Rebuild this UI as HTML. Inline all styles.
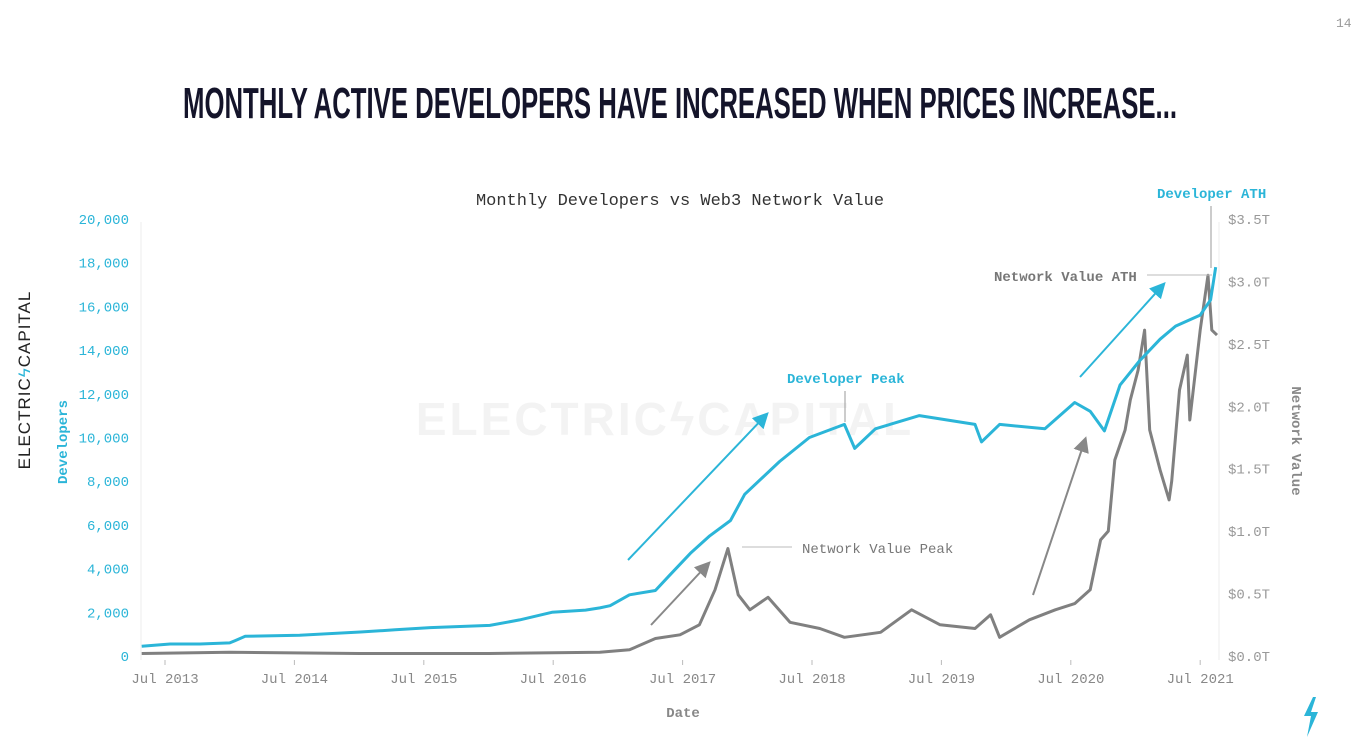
<!DOCTYPE html>
<html><head><meta charset="utf-8"><style>
body{margin:0;background:#fff;width:1360px;height:754px;overflow:hidden}
svg{display:block}
.mono{font-family:"Liberation Mono",monospace}
</style></head><body>
<svg id="chart" width="1360" height="754" viewBox="0 0 1360 754" xmlns="http://www.w3.org/2000/svg">
<text x="1336" y="27" class="mono" font-size="13" fill="#999">14</text>
<text x="680" y="118" text-anchor="middle" font-family="Liberation Sans,sans-serif" font-weight="bold" font-size="44" fill="#14142a" textLength="994" lengthAdjust="spacingAndGlyphs">MONTHLY ACTIVE DEVELOPERS HAVE INCREASED WHEN PRICES INCREASE...</text>
<text transform="translate(30,380) rotate(-90)" text-anchor="middle" font-family="Liberation Sans,sans-serif" font-size="17" fill="#222" letter-spacing="1">ELECTRIC<tspan fill="#2bb5d8">ϟ</tspan>CAPITAL</text>
<text x="665" y="435" text-anchor="middle" font-family="Liberation Sans,sans-serif" font-weight="bold" font-size="46" fill="#f3f3f3" letter-spacing="3">ELECTRICϟCAPITAL</text>
<text x="680" y="205" text-anchor="middle" class="mono" font-size="17" fill="#333">Monthly Developers vs Web3 Network Value</text>
<line x1="141" y1="222" x2="141" y2="660" stroke="#eee"/>
<line x1="1219" y1="222" x2="1219" y2="660" stroke="#eee"/>
<g id="axes"></g>
<text transform="translate(67,442) rotate(-90)" text-anchor="middle" class="mono" font-weight="bold" font-size="14" fill="#2bb5d8">Developers</text>
<text transform="translate(1292,441) rotate(90)" text-anchor="middle" class="mono" font-weight="bold" font-size="14" fill="#888">Network Value</text>
<text x="683" y="717" text-anchor="middle" class="mono" font-weight="bold" font-size="14" fill="#888">Date</text>
<g id="series"></g>
<g>
<defs>
<marker id="ab" markerWidth="8" markerHeight="8" refX="6" refY="4" orient="auto"><path d="M0,0 L8,4 L0,8 z" fill="#2bb5d8"/></marker>
<marker id="ag" markerWidth="8" markerHeight="8" refX="6" refY="4" orient="auto"><path d="M0,0 L8,4 L0,8 z" fill="#888"/></marker>
</defs>
<line x1="628" y1="560" x2="766" y2="415" stroke="#2bb5d8" stroke-width="2" marker-end="url(#ab)"/>
<line x1="1080" y1="377" x2="1163" y2="285" stroke="#2bb5d8" stroke-width="2" marker-end="url(#ab)"/>
<line x1="651" y1="625" x2="708" y2="564" stroke="#888" stroke-width="2" marker-end="url(#ag)"/>
<line x1="1033" y1="595" x2="1085" y2="440" stroke="#888" stroke-width="2" marker-end="url(#ag)"/>
<text x="787" y="383" class="mono" font-weight="bold" font-size="14" fill="#2bb5d8">Developer Peak</text>
<line x1="845" y1="391" x2="845" y2="422" stroke="#999"/>
<text x="802" y="553" class="mono" font-size="14" fill="#777">Network Value Peak</text>
<line x1="742" y1="547" x2="792" y2="547" stroke="#bbb"/>
<text x="994" y="281" class="mono" font-weight="bold" font-size="14" fill="#777">Network Value ATH</text>
<line x1="1147" y1="275" x2="1212" y2="275" stroke="#bbb"/>
<text x="1157" y="198" class="mono" font-weight="bold" font-size="14" fill="#2bb5d8">Developer ATH</text>
<line x1="1211" y1="206" x2="1211" y2="268" stroke="#999"/>
</g>
<path d="M1313 697 L1304 716 L1311 716 L1307 737 L1318 712 L1311 712 L1316 697 z" fill="#2bb5d8"/>
</svg>
<script>
const devYears=[2013.32,2013.54,2013.77,2014.0,2014.04,2014.12,2014.54,2015.01,2015.28,2015.55,2016.01,2016.24,2016.49,2016.75,2016.86,2016.94,2017.09,2017.29,2017.40,2017.56,2017.71,2017.87,2017.98,2018.25,2018.48,2018.75,2018.83,2018.99,2019.33,2019.76,2019.81,2019.95,2020.30,2020.53,2020.65,2020.76,2020.88,2021.03,2021.19,2021.31,2021.50,2021.58,2021.62];
const devValues=[450,550,550,600,700,900,950,1100,1200,1300,1400,1650,2000,2100,2200,2300,2800,3000,3700,4700,5500,6200,7400,8900,10000,10600,9500,10400,11000,10600,9800,10600,10400,11600,11200,10300,12400,13500,14500,15100,15600,16300,17800];
const nvYears=[2013.32,2014.0,2015.0,2016.0,2016.86,2017.09,2017.29,2017.48,2017.63,2017.75,2017.85,2017.93,2018.02,2018.16,2018.33,2018.56,2018.75,2019.03,2019.27,2019.49,2019.76,2019.88,2019.95,2020.18,2020.38,2020.53,2020.65,2020.73,2020.79,2020.84,2020.92,2020.96,2021.02,2021.07,2021.11,2021.19,2021.26,2021.28,2021.34,2021.40,2021.42,2021.50,2021.56,2021.59,2021.63];
const nvValues=[0.02,0.03,0.02,0.02,0.03,0.05,0.14,0.17,0.25,0.53,0.86,0.49,0.37,0.47,0.27,0.22,0.15,0.19,0.37,0.25,0.22,0.33,0.15,0.29,0.37,0.42,0.53,0.93,1.0,1.57,1.81,2.05,2.29,2.61,1.81,1.49,1.25,1.40,2.13,2.41,1.89,2.61,3.05,2.61,2.57];
const devTicks=[0,2000,4000,6000,8000,10000,12000,14000,16000,18000,20000];
const nvTicks=[0,0.5,1.0,1.5,2.0,2.5,3.0,3.5];
const xTickYears=[2013.5,2014.5,2015.5,2016.5,2017.5,2018.5,2019.5,2020.5,2021.5];
const xTickLabels=["Jul 2013","Jul 2014","Jul 2015","Jul 2016","Jul 2017","Jul 2018","Jul 2019","Jul 2020","Jul 2021"];

const NS="http://www.w3.org/2000/svg";
const X=y=>165+(y-2013.5)*129.4;
const YL=v=>656-v/20000*437;
const YR=v=>656-v/3.5*437;
function mk(tag,attrs,parent){const e=document.createElementNS(NS,tag);for(const k in attrs)e.setAttribute(k,attrs[k]);parent.appendChild(e);return e;}
const axes=document.getElementById('axes'), series=document.getElementById('series');
devTicks.forEach(v=>{const t=mk('text',{x:129,y:YL(v)+5,'text-anchor':'end','class':'mono','font-size':14,fill:'#2bb5d8'},axes);


t.textContent=v.toLocaleString('en-US');});
nvTicks.forEach(v=>{const t=mk('text',{x:1228,y:YR(v)+5,'class':'mono','font-size':14,fill:'#999'},axes);


t.textContent='$'+v.toFixed(1)+'T';});
xTickYears.forEach((yr,i)=>{const l=mk('line',{x1:X(yr),x2:X(yr),y1:660,y2:665,stroke:'#bbb'},axes);


const t=mk('text',{x:X(yr),y:683,'text-anchor':'middle','class':'mono','font-size':14,fill:'#888'},axes);


t.textContent=xTickLabels[i];});
const nvPath=mk('path',{d:nvYears.map((y,i)=>(i?'L':'M')+X(y).toFixed(1)+','+YR(nvValues[i]).toFixed(1)).join(''),fill:'none',stroke:'#808080','stroke-width':3,'stroke-linejoin':'round'},series);


const devPath=mk('path',{d:devYears.map((y,i)=>(i?'L':'M')+X(y).toFixed(1)+','+YL(devValues[i]).toFixed(1)).join(''),fill:'none',stroke:'#2bb5d8','stroke-width':3,'stroke-linejoin':'round'},series);


</script>
</body></html>
